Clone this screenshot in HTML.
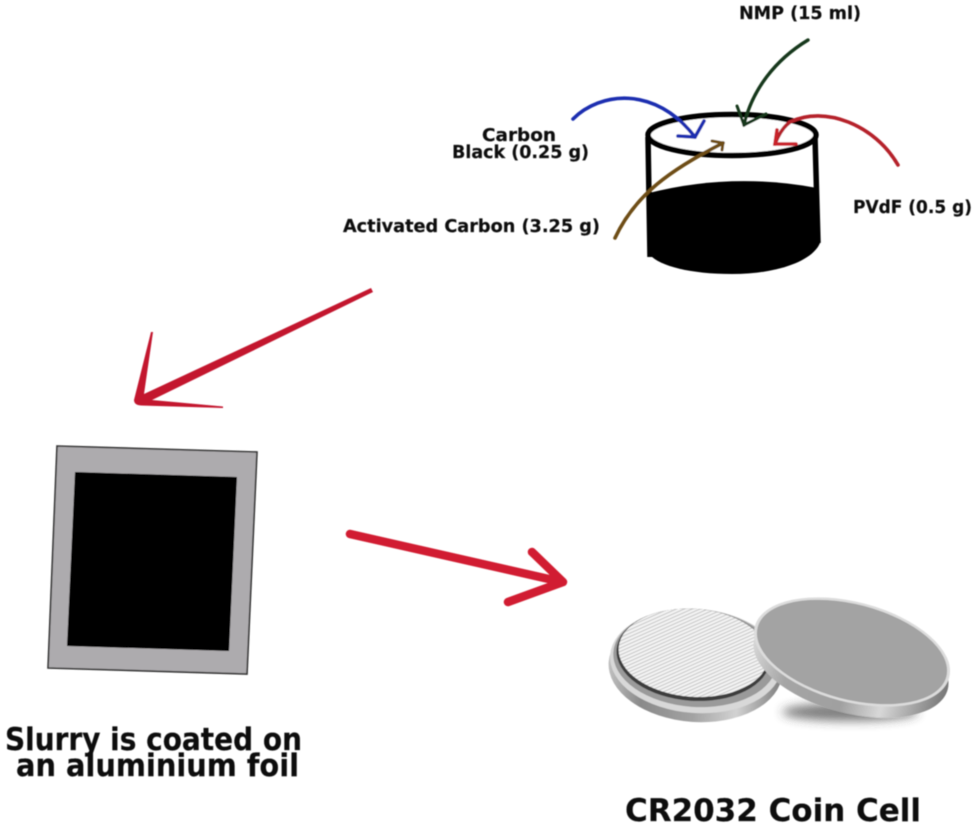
<!DOCTYPE html>
<html><head><meta charset="utf-8"><style>
html,body{margin:0;padding:0;background:#fff;width:975px;height:826px;overflow:hidden}
svg{display:block}
text{font-family:"DejaVu Sans","Liberation Sans",sans-serif;font-weight:bold;fill:#111;stroke:#111;stroke-width:.2}
</style></head><body>
<svg width="975" height="826" viewBox="0 0 975 826" xmlns="http://www.w3.org/2000/svg">
<defs>
<filter id="b" x="-5%" y="-5%" width="110%" height="110%"><feGaussianBlur stdDeviation="0.6"/></filter>
<filter id="s" x="-40%" y="-100%" width="180%" height="300%"><feGaussianBlur stdDeviation="5"/></filter>
<pattern id="hatch" width="3.2" height="3.2" patternUnits="userSpaceOnUse" patternTransform="rotate(62)">
<rect width="3.2" height="3.2" fill="#f4f4f4"/><rect width="1" height="3.2" fill="#c4c4c4"/>
</pattern>
<linearGradient id="edge" x1="0" x2="1" y1="0" y2="0">
<stop offset="0" stop-color="#c0c0c0"/><stop offset=".2" stop-color="#8a8a8a"/><stop offset=".5" stop-color="#a2a2a2"/><stop offset=".75" stop-color="#d2d2d2"/><stop offset="1" stop-color="#808080"/>
</linearGradient>
<linearGradient id="edge2" x1="0" x2="1" y1="0" y2="0">
<stop offset="0" stop-color="#d6d6d6"/><stop offset=".2" stop-color="#a5a5a5"/><stop offset=".5" stop-color="#a0a0a0"/><stop offset=".7" stop-color="#d8d8d8"/><stop offset="1" stop-color="#777"/>
</linearGradient>
</defs>

<g filter="url(#b)">
<!-- beaker -->
<path d="M649 193 Q732 172 817 188 L820 243 C812 262 775 274 732 274 C690 274 660 266 650 255 Z" fill="#000"/>
<path d="M648 137 L650 257 M815 137 L818 243" fill="none" stroke="#000" stroke-width="5.5"/>
<ellipse cx="732" cy="135" rx="84" ry="20.5" fill="#fff" stroke="#000" stroke-width="5.5"/>

<!-- blue -->
<path d="M573 119 C600 92 655 85 695 137" fill="none" stroke="#1c2fb0" stroke-width="3.6" stroke-linecap="round"/>
<path d="M704 121 L695 137 L678 136" fill="none" stroke="#1c2fb0" stroke-width="3.6" stroke-linecap="round"/>
<!-- green -->
<path d="M808 40 C775 60 752 90 744 125" fill="none" stroke="#16391a" stroke-width="3.4" stroke-linecap="round"/>
<path d="M737 106 L744 125 L766 114" fill="none" stroke="#16391a" stroke-width="3" stroke-linecap="round"/>
<!-- red -->
<path d="M898 165 C875 125 825 105 790 122 C782 128 778 136 775 144" fill="none" stroke="#b5202c" stroke-width="3.6" stroke-linecap="round"/>
<path d="M777 130 L775 144 L796 144" fill="none" stroke="#c9202c" stroke-width="3.6" stroke-linecap="round"/>
<!-- brown -->
<path d="M615 238 C635 195 670 170 723 143" fill="none" stroke="#6e4e17" stroke-width="3.6" stroke-linecap="round"/>
<path d="M712 141 L723 143 L722 150" fill="none" stroke="#6e4e17" stroke-width="3" stroke-linecap="round"/>

<!-- big arrow 1 -->
<path d="M371 288 L373 292 L152 400 L223 406.5 L223 408 L141 405.5 Q134 405 134 400 L151 332 L153 332 L144 394 Z" fill="#c3142e"/>
<!-- big arrow 2 -->
<path d="M350 534 L562 582 M532 552 L563 582 L508 602" fill="none" stroke="#d11f30" stroke-width="8.5" stroke-linecap="round" stroke-linejoin="round"/>

<!-- foil -->
<polygon points="57,446 257,452 247,674 48,668" fill="#adabae" stroke="#333" stroke-width="1.6"/>
<polygon points="75,472 237,477 229,651 67,646" fill="#000"/>
</g>

<!-- coins -->
<g filter="url(#b)">
<ellipse cx="850" cy="712" rx="68" ry="9" fill="#444" filter="url(#s)" opacity=".7"/>
<g transform="rotate(4 696 660)">
<ellipse cx="696" cy="668" rx="87" ry="54" fill="url(#edge)"/>
<ellipse cx="696" cy="661" rx="86" ry="52" fill="#d8d8d8"/>
<ellipse cx="695" cy="658" rx="82" ry="49" fill="#9a9a9a"/>
<ellipse cx="693" cy="655" rx="77" ry="46" fill="#3c3c3c"/>
<ellipse cx="693" cy="653" rx="75" ry="44" fill="url(#hatch)"/>
</g>
<g transform="translate(-1 12) rotate(14.7 852 652)">
<ellipse cx="852" cy="652" rx="100" ry="49" fill="url(#edge2)"/>
</g>
<g transform="rotate(14.7 852 652)">
<ellipse cx="852" cy="652" rx="100.5" ry="50" fill="#dcdcdc"/>
<ellipse cx="852" cy="652" rx="97.5" ry="47.5" fill="#a3a3a3"/>
</g>
</g>

<!-- labels -->
<g filter="url(#b)">
<text x="739" y="19" font-size="17.5" textLength="122" lengthAdjust="spacingAndGlyphs">NMP (15 ml)</text>
<text x="482" y="141" font-size="17.5" textLength="74" lengthAdjust="spacingAndGlyphs">Carbon</text>
<text x="452" y="158" font-size="17.5" textLength="137" lengthAdjust="spacingAndGlyphs">Black (0.25 g)</text>
<text x="343" y="232" font-size="17.5" textLength="257" lengthAdjust="spacingAndGlyphs">Activated Carbon (3.25 g)</text>
<text x="853" y="213" font-size="17.5" textLength="119" lengthAdjust="spacingAndGlyphs">PVdF (0.5 g)</text>
<text x="5" y="750" font-size="31" textLength="297" lengthAdjust="spacingAndGlyphs">Slurry is coated on</text>
<text x="16" y="776" font-size="31" textLength="283" lengthAdjust="spacingAndGlyphs">an aluminium foil</text>
<text x="625" y="821" font-size="31" textLength="296" lengthAdjust="spacingAndGlyphs">CR2032 Coin Cell</text>
</g>
</svg>
</body></html>
